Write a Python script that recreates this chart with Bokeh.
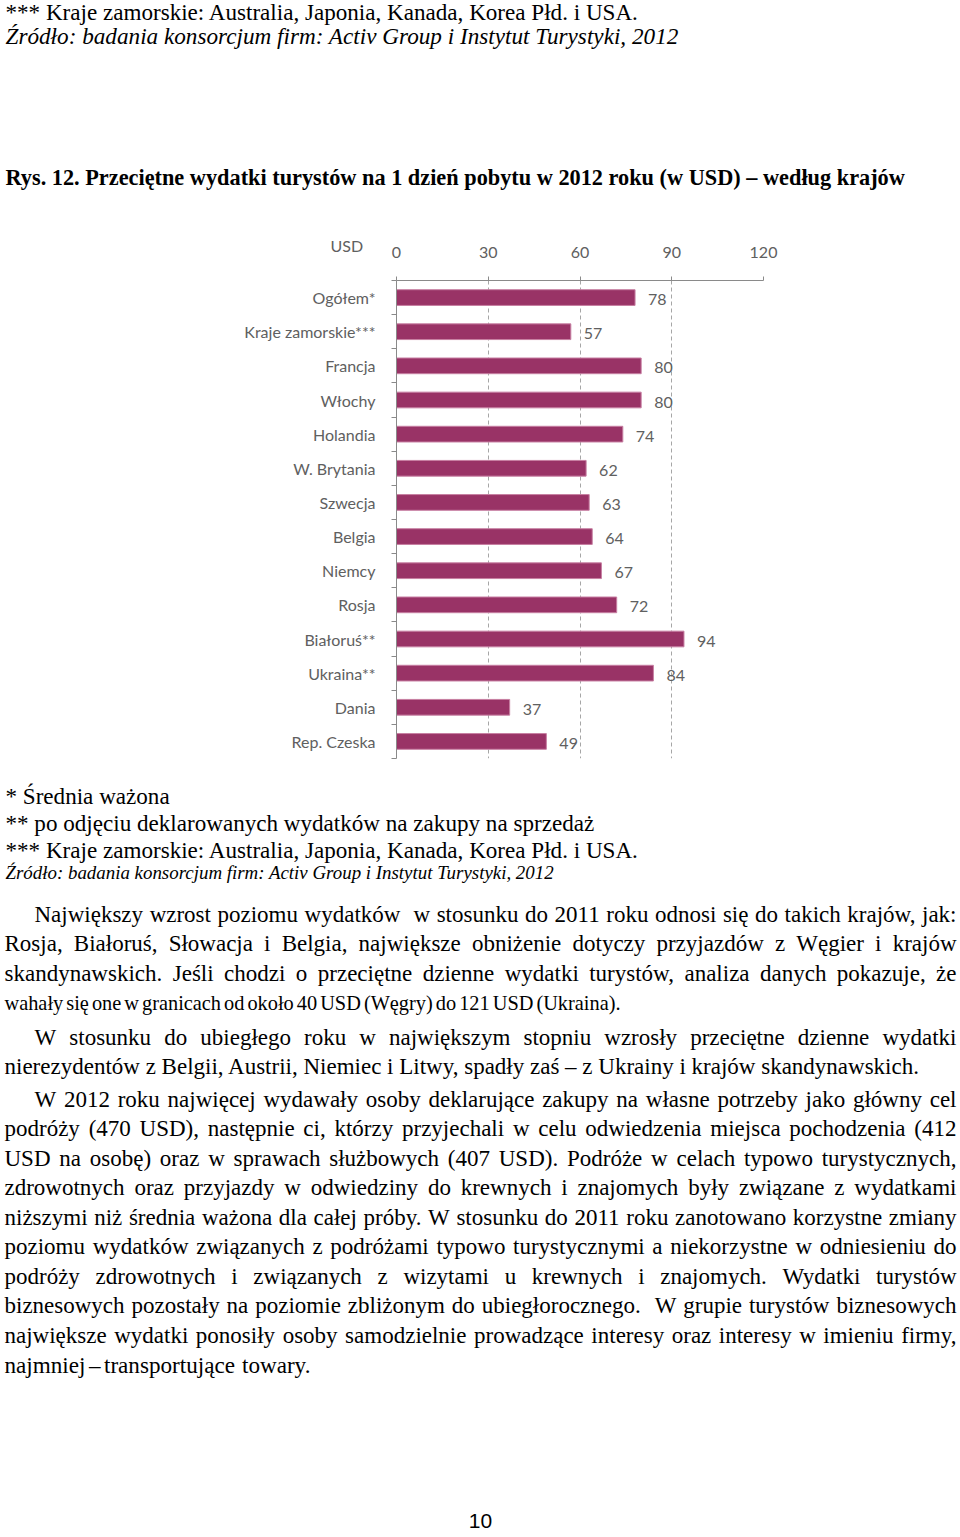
import glob, os
from bokeh.plotting import figure
from bokeh.models import Range1d, FixedTicker, ColumnDataSource
from bokeh.layouts import column
from bokeh.embed import file_html
from bokeh.resources import INLINE
from bokeh.core.properties import value

# ---------------- data ----------------
categories = ["Ogółem*", "Kraje zamorskie***", "Francja", "Włochy", "Holandia",
              "W. Brytania", "Szwecja", "Belgia", "Niemcy", "Rosja",
              "Białoruś**", "Ukraina**", "Dania", "Rep. Czeska"]
spending_usd = [78, 57, 80, 80, 74, 62, 63, 64, 67, 72, 94, 84, 37, 49]
x_ticks = [0, 30, 60, 90, 120]
axis_unit = "USD"

top_note = "*** Kraje zamorskie: Australia, Japonia, Kanada, Korea Płd. i USA."
source_note = "Źródło: badania konsorcjum firm: Activ Group i Instytut Turystyki, 2012"
title_text = "Rys. 12. Przeciętne wydatki turystów na 1 dzień pobytu w 2012 roku (w USD) – według krajów"
footnotes = ["* Średnia ważona",
             "** po odjęciu deklarowanych wydatków na zakupy na sprzedaż",
             "*** Kraje zamorskie: Australia, Japonia, Kanada, Korea Płd. i USA."]
paragraphs = [
    ["Największy wzrost poziomu wydatków  w stosunku do 2011 roku odnosi się do takich krajów, jak:",
     "Rosja, Białoruś, Słowacja i Belgia, największe obniżenie dotyczy przyjazdów z Węgier i krajów",
     "skandynawskich. Jeśli chodzi o przeciętne dzienne wydatki turystów, analiza danych pokazuje, że",
     "wahały się one w granicach od około 40 USD (Węgry) do 121 USD (Ukraina)."],
    ["W stosunku do ubiegłego roku w największym stopniu wzrosły przeciętne dzienne wydatki",
     "nierezydentów z Belgii, Austrii, Niemiec i Litwy, spadły zaś – z Ukrainy i krajów skandynawskich."],
    ["W 2012 roku najwięcej wydawały osoby deklarujące zakupy na własne potrzeby jako główny cel",
     "podróży (470 USD), następnie ci, którzy przyjechali w celu odwiedzenia miejsca pochodzenia (412",
     "USD na osobę) oraz w sprawach służbowych (407 USD). Podróże w celach typowo turystycznych,",
     "zdrowotnych oraz przyjazdy w odwiedziny do krewnych i znajomych były związane z wydatkami",
     "niższymi niż średnia ważona dla całej próby. W stosunku do 2011 roku zanotowano korzystne zmiany",
     "poziomu wydatków związanych z podróżami typowo turystycznymi a niekorzystne w odniesieniu do",
     "podróży zdrowotnych i związanych z wizytami u krewnych i znajomych. Wydatki turystów",
     "biznesowych pozostały na poziomie zbliżonym do ubiegłorocznego.  W grupie turystów biznesowych",
     "największe wydatki ponosiły osoby samodzielnie prowadzące interesy oraz interesy w imieniu firmy,",
     "najmniej – transportujące  towary."],
]
page_number = "10"

# ---------------- layout / styles ----------------
W = 960
SERIF = "Liberation Serif"
SANS = "Lato"
BAR = "#993366"
GREY_TXT = "#606060"
AXIS_GREY = "#8a8a8a"

BODY = 23.0                       # body text size (px)
LEAD = 29.45                      # line pitch
para_first_baseline = [914, 1037, 1099]
para_last_line_end = [620, 925, 310]
TEXT_LEFT, TEXT_RIGHT, INDENT = 4, 956, 34


def find_font(fname):
    for base in ["/usr/share/fonts", "/usr/local/share/fonts", os.path.expanduser("~/.fonts")]:
        r = glob.glob(os.path.join(base, "**", fname), recursive=True)
        if r:
            return r[0]
    return None


try:
    from PIL import ImageFont
    _p = find_font("LiberationSerif-Regular.ttf")
    MEASURE = ImageFont.truetype(_p, 100) if _p else None
except Exception:
    MEASURE = None


def place_line(text, x0, x1, size, justify):
    """Return list of (x, word, font_size) so the line fits between x0 and x1."""
    if MEASURE is None:
        return [(x0, text, size)]
    words = text.split(" ")
    gaps = len(words) - 1
    wsum = sum(MEASURE.getlength(w) for w in words) * size / 100.0
    space = MEASURE.getlength(" ") * size / 100.0
    target = x1 - x0
    if wsum + space * gaps > target:
        # condensed line in the original: shrink a little, tighten word gaps
        size = size * target / (wsum + 0.6 * space * gaps)
        justify = True
    elif not justify or gaps < 1:
        return [(x0, text, size)]
    widths = [MEASURE.getlength(w) * size / 100.0 for w in words]
    g = (target - sum(widths)) / gaps
    out, x = [], x0
    for w, wd in zip(words, widths):
        if w:
            out.append((x, w, size))
        x += wd + g
    return out


def text_fig(height, y_top):
    f = figure(width=W, height=height, x_range=Range1d(0, W),
               y_range=Range1d(y_top + height, y_top),
               x_axis_type=None, y_axis_type=None, output_backend="svg",
               toolbar_location=None, min_border=0, outline_line_color=None,
               frame_align=False, title_location=None)
    f.grid.visible = False
    return f


# ---------------- top text (page y 0..262) ----------------
top = text_fig(262, 0)
top.text(x=[5], y=[11], text=[top_note], text_font=value(SERIF), text_font_size="23.1px",
         text_baseline="alphabetic", text_color="black")
top.text(x=[5], y=[35], text=[source_note], text_font=value(SERIF), text_font_size="23.2px",
         text_font_style="italic", text_baseline="alphabetic", text_color="black")
top.text(x=[5], y=[177], text=[title_text], text_font=value(SERIF), text_font_size="22.3px",
         text_font_style="bold", text_baseline="alphabetic", text_color="black")
top.text(x=[330], y=[245], text=[axis_unit], text_font=value(SANS), text_font_size="16px",
         text_baseline="middle", text_color=GREY_TXT)

# ---------------- chart (page y 200..775, overlapping the top strip) ----------------
n = len(categories)
ys = [i + 0.5 for i in range(n)]
src = ColumnDataSource(dict(y=ys, v=spending_usd, lab=[str(v) for v in spending_usd]))

chart = figure(width=W, height=575, x_range=Range1d(x_ticks[0], x_ticks[-1]),
               y_range=Range1d(n, 0), x_axis_location="above",
               output_backend="svg", toolbar_location=None,
               min_border_left=396, min_border_right=197, min_border_top=80,
               min_border_bottom=17, outline_line_color=None, frame_align=False,
               background_fill_color=None, border_fill_color=None,
               margin=(-62, 0, 0, 0))

chart.hbar(y="y", left=0, right="v", height=0.46, source=src,
           fill_color=BAR, line_color="#c77fa2", line_width=1)
chart.text(x="v", y="y", text="lab", source=src, x_offset=13, y_offset=2,
           text_align="left", text_baseline="middle", text_font=value(SANS),
           text_font_size="16px", text_color=GREY_TXT)

xa = chart.xaxis[0]
xa.ticker = FixedTicker(ticks=x_ticks)
xa.major_tick_out = 4
xa.major_tick_in = 0
xa.major_tick_line_color = AXIS_GREY
xa.axis_line_color = AXIS_GREY
xa.major_label_standoff = 19
xa.major_label_text_font = SANS
xa.major_label_text_font_size = "16px"
xa.major_label_text_color = GREY_TXT

ya = chart.yaxis[0]
ya.ticker = FixedTicker(ticks=ys, minor_ticks=list(range(n + 1)))
ya.major_label_overrides = {y: c for y, c in zip(ys, categories)}
ya.major_tick_line_color = None
ya.major_tick_out = 0
ya.major_tick_in = 0
ya.minor_tick_out = 5
ya.minor_tick_in = 0
ya.minor_tick_line_color = AXIS_GREY
ya.axis_line_color = AXIS_GREY
ya.major_label_standoff = 16
ya.major_label_text_font = SANS
ya.major_label_text_font_size = "16px"
ya.major_label_text_color = GREY_TXT

chart.xgrid.ticker = FixedTicker(ticks=x_ticks)
chart.xgrid.grid_line_color = "#a6a6a6"
chart.xgrid.grid_line_dash = "4 3"
chart.ygrid.visible = False

# ---------------- bottom text (page y 775..1537) ----------------
bottom = text_fig(762, 775)
bottom.text(x=[5, 5, 5], y=[795, 822, 849], text=footnotes, text_font=value(SERIF),
            text_font_size="23.1px", text_baseline="alphabetic", text_color="black")
bottom.text(x=[5], y=[872], text=[source_note], text_font=value(SERIF), text_font_size="18.9px",
            text_font_style="italic", text_baseline="alphabetic", text_color="black")

wx, wy, wt, wf = [], [], [], []
for p, base, last_end in zip(paragraphs, para_first_baseline, para_last_line_end):
    for k, line in enumerate(p):
        x0 = INDENT if k == 0 else TEXT_LEFT
        last = (k == len(p) - 1)
        x1 = last_end if last else TEXT_RIGHT
        for x, t, s in place_line(line, x0, x1, BODY, not last):
            wx.append(x)
            wy.append(base + k * LEAD)
            wt.append(t)
            wf.append(f"{s:.2f}px")
body_src = ColumnDataSource(dict(x=wx, y=wy, t=wt, fs=wf))
bottom.text(x="x", y="y", text="t", text_font_size="fs", source=body_src,
            text_font=value(SERIF), text_baseline="alphabetic", text_align="left",
            text_color="black")
bottom.text(x=[480], y=[1520], text=[page_number], text_font=value("Liberation Sans"),
            text_font_size="21px", text_baseline="alphabetic", text_align="center",
            text_color="black")

root = column(top, chart, bottom, spacing=0)
open("out.html", "w").write(file_html(root, INLINE))
